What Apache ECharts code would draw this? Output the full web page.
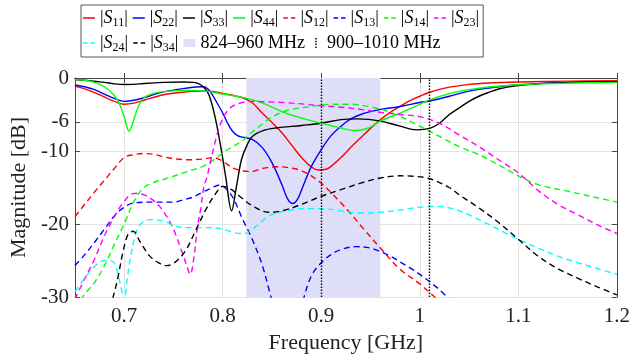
<!DOCTYPE html>
<html>
<head>
<meta charset="utf-8">
<script src="https://cdn.jsdelivr.net/npm/echarts@6/dist/echarts.min.js"></script>
<style>html,body{margin:0;padding:0;background:#fff}#c{width:633px;height:361px}</style>
</head>
<body>
<div id="c"></div>
<script>
// ---- data (frequency in GHz, magnitude in dB) ----
const s11F = [0.65,0.66,0.67,0.68,0.69,0.70,0.71,0.72,0.74,0.76,0.78,0.79,0.80,0.82,0.83,0.84,0.85,0.86,0.87,0.88,0.89,0.897,0.905,0.91,0.92,0.93,0.94,0.95,0.96,0.97,0.98,0.99,1.00,1.01,1.02,1.03,1.05,1.07,1.10,1.15,1.20];
const s11  = [-1.1,-1.5,-2.0,-2.6,-3.2,-3.6,-3.45,-3.05,-2.3,-1.95,-1.8,-1.85,-2.1,-2.7,-3.4,-4.8,-6.1,-7.5,-9.2,-10.9,-12.2,-12.6,-12.5,-12.1,-10.9,-9.5,-8.2,-6.9,-5.7,-4.7,-3.9,-3.1,-2.5,-1.95,-1.55,-1.25,-0.87,-0.68,-0.55,-0.43,-0.37];

const s22F = [0.65,0.66,0.67,0.68,0.69,0.70,0.71,0.72,0.74,0.76,0.78,0.785,0.79,0.795,0.80,0.805,0.81,0.815,0.82,0.83,0.84,0.85,0.86,0.866,0.871,0.876,0.881,0.89,0.90,0.91,0.92,0.93,0.94,0.95,0.96,0.98,1.00,1.01,1.03,1.05,1.07,1.10,1.15,1.20];
const s22  = [-0.95,-1.2,-1.6,-2.2,-2.8,-3.2,-3.05,-2.7,-1.9,-1.45,-1.2,-1.5,-2.4,-3.6,-4.8,-6.2,-7.3,-7.9,-8.1,-8.4,-9.5,-11.6,-14.6,-16.6,-17.2,-16.6,-15.0,-12.1,-9.8,-7.9,-6.6,-5.6,-5.0,-4.6,-4.3,-3.9,-3.35,-3.15,-2.5,-1.8,-1.37,-0.92,-0.6,-0.5];

const s33F = [0.65,0.66,0.67,0.68,0.69,0.70,0.71,0.72,0.74,0.76,0.77,0.776,0.781,0.786,0.792,0.798,0.803,0.809,0.814,0.819,0.824,0.83,0.841,0.854,0.88,0.90,0.92,0.937,0.96,0.98,0.997,1.01,1.02,1.03,1.04,1.05,1.06,1.07,1.08,1.10,1.12,1.15,1.20];
const s33  = [-0.2,-0.3,-0.45,-0.6,-0.8,-0.9,-0.88,-0.75,-0.6,-0.55,-0.6,-0.8,-1.3,-2.3,-5.2,-9.4,-13.5,-18.2,-14.8,-11.2,-9.4,-8.0,-7.2,-6.85,-6.5,-6.2,-5.7,-5.6,-5.9,-6.6,-7.1,-6.9,-6.2,-5.0,-4.1,-3.2,-2.5,-1.97,-1.5,-1.05,-0.8,-0.64,-0.5];

const s44F = [0.65,0.66,0.67,0.68,0.69,0.695,0.70,0.705,0.71,0.715,0.72,0.73,0.745,0.765,0.785,0.80,0.82,0.84,0.86,0.88,0.90,0.92,0.934,0.948,0.96,0.98,1.00,1.01,1.03,1.05,1.07,1.10,1.15,1.20];
const s44  = [-0.22,-0.3,-0.6,-1.2,-2.4,-3.5,-5.3,-7.3,-5.6,-3.7,-2.7,-2.1,-1.8,-1.7,-1.83,-2.2,-2.65,-3.4,-4.6,-5.5,-6.2,-6.85,-7.2,-6.85,-5.9,-4.8,-3.6,-3.0,-2.15,-1.6,-1.23,-0.92,-0.7,-0.6];

const s12F = [0.65,0.66,0.67,0.68,0.69,0.70,0.71,0.72,0.73,0.74,0.75,0.765,0.78,0.79,0.80,0.81,0.82,0.83,0.84,0.855,0.87,0.88,0.89,0.90,0.91,0.92,0.93,0.94,0.96,0.98,1.00,1.01,1.02];
const s12  = [-19.0,-17.3,-15.6,-14.0,-12.4,-10.9,-10.5,-10.35,-10.45,-10.8,-11.05,-11.2,-11.1,-10.9,-11.4,-12.3,-12.7,-12.8,-12.4,-12.15,-12.35,-12.7,-13.4,-14.4,-15.7,-17.1,-18.6,-20.2,-23.3,-26.2,-28.2,-29.4,-30.6];

const s13F = [0.65,0.66,0.67,0.68,0.69,0.70,0.71,0.73,0.75,0.76,0.77,0.78,0.79,0.796,0.80,0.81,0.82,0.83,0.84,0.848,0.855,0.865,0.876,0.882,0.89,0.90,0.91,0.92,0.935,0.95,0.96,0.97,0.98,0.99,1.00,1.01,1.02,1.03];
const s13  = [-25.7,-24.2,-22.5,-20.7,-18.9,-17.7,-17.1,-17.0,-17.0,-16.7,-16.3,-15.6,-15.0,-14.7,-14.8,-16.3,-19.3,-22.1,-25.6,-29.5,-33,-38,-34,-30.3,-27.1,-25.3,-24.2,-23.5,-23.1,-23.3,-23.8,-24.4,-25.2,-26.0,-26.9,-27.9,-29.0,-30.3];

const s14F = [0.65,0.66,0.67,0.68,0.69,0.70,0.71,0.72,0.73,0.74,0.76,0.78,0.79,0.80,0.81,0.82,0.83,0.84,0.85,0.86,0.87,0.89,0.91,0.93,0.95,0.97,0.99,1.00,1.02,1.04,1.06,1.08,1.10,1.12,1.15,1.18,1.20];
const s14  = [-31.5,-29.6,-28.0,-25.7,-22.8,-20.0,-16.9,-15.0,-14.3,-13.9,-13.0,-12.1,-11.3,-10.3,-9.4,-8.6,-7.4,-6.3,-5.35,-4.7,-4.3,-3.9,-3.6,-3.6,-3.95,-4.7,-5.9,-6.6,-8.0,-9.4,-10.5,-11.9,-13.4,-14.6,-15.5,-16.4,-17.0];

const s23F = [0.65,0.66,0.67,0.68,0.69,0.70,0.71,0.72,0.73,0.74,0.75,0.757,0.763,0.767,0.771,0.774,0.778,0.781,0.784,0.788,0.793,0.798,0.806,0.816,0.83,0.85,0.86,0.88,0.90,0.92,0.94,0.96,0.98,1.00,1.02,1.04,1.06,1.08,1.10,1.12,1.14,1.16,1.18,1.20];
const s23  = [-30.3,-27.5,-24.8,-21.6,-19.0,-16.9,-15.8,-16.0,-16.8,-18.3,-20.7,-23.2,-25.5,-26.9,-24.4,-20.8,-17.6,-14.8,-13.6,-11.2,-8.4,-6.2,-4.3,-3.5,-3.2,-3.3,-3.35,-3.55,-3.8,-4.0,-4.3,-4.7,-5.0,-5.3,-6.2,-7.8,-9.4,-11.2,-13.0,-15.4,-17.3,-18.7,-20.1,-21.3];

const s24F = [0.65,0.66,0.67,0.68,0.689,0.694,0.698,0.700,0.703,0.706,0.711,0.716,0.726,0.74,0.752,0.765,0.786,0.80,0.812,0.822,0.834,0.847,0.864,0.88,0.90,0.92,0.94,0.96,0.98,1.00,1.02,1.04,1.06,1.08,1.10,1.12,1.14,1.16,1.18,1.20];
const s24  = [-29.3,-27.4,-25.8,-25.0,-25.2,-27.1,-29.4,-30.5,-27.6,-24.9,-21.7,-20.1,-19.4,-19.6,-20.3,-20.5,-20.5,-20.7,-21.2,-21.3,-20.3,-18.9,-18.2,-17.9,-17.9,-18.2,-18.5,-18.4,-18.1,-17.7,-17.6,-18.2,-19.4,-20.75,-22.1,-23.3,-24.4,-25.3,-26.1,-26.9];

const s34F = [0.685,0.689,0.694,0.699,0.704,0.709,0.716,0.726,0.736,0.743,0.753,0.763,0.773,0.783,0.793,0.80,0.809,0.819,0.83,0.847,0.86,0.88,0.90,0.92,0.94,0.96,0.98,0.993,1.01,1.03,1.04,1.06,1.08,1.10,1.12,1.14,1.16,1.18,1.20];
const s34  = [-31.5,-29.9,-27.1,-23.7,-21.4,-21.0,-22.4,-24.4,-25.4,-25.7,-25.1,-23.5,-20.75,-18.0,-15.8,-14.85,-15.3,-16.4,-17.5,-18.4,-18.2,-17.3,-16.2,-15.3,-14.4,-13.7,-13.4,-13.45,-13.8,-15.0,-16.0,-17.8,-19.8,-22.1,-24.4,-26.1,-27.4,-28.6,-29.7];

const bandGHz = [0.824, 0.960];
const markerGHz = [0.900, 1.010];
const xTicks = [0.7, 0.8, 0.9, 1.0, 1.1, 1.2];
const yTicks = [-30, -20, -10, -6, 0];

const curves = [
  {name:'S11', f:s11F, v:s11, color:'#ff0000', dash:'solid'},
  {name:'S22', f:s22F, v:s22, color:'#0000ff', dash:'solid'},
  {name:'S33', f:s33F, v:s33, color:'#000000', dash:'solid'},
  {name:'S44', f:s44F, v:s44, color:'#00ff00', dash:'solid'},
  {name:'S12', f:s12F, v:s12, color:'#ff0000', dash:[6,4]},
  {name:'S13', f:s13F, v:s13, color:'#0000ff', dash:[6,4]},
  {name:'S14', f:s14F, v:s14, color:'#00ff00', dash:[6,4]},
  {name:'S23', f:s23F, v:s23, color:'#ff00ff', dash:[6,4]},
  {name:'S24', f:s24F, v:s24, color:'#00ffff', dash:[6,4]},
  {name:'S34', f:s34F, v:s34, color:'#000000', dash:[6,4]}
];

const FONT = 'Liberation Serif';
const bandColor = '#dedef9';
const axisColor = '#444';
const gridColor = '#e3e3e3';

const series = [];
series.push({
  name:'824–960 MHz', type:'line', data:[], z:1, color:bandColor,
  markArea:{silent:true, itemStyle:{color:bandColor}, data:[[{xAxis:bandGHz[0]},{xAxis:bandGHz[1]}]]}
});
curves.forEach(c => {
  series.push({
    name:c.name, type:'line', symbol:'none', showSymbol:false, smooth:0.35, z:3,
    color:c.color, clip:true, animation:false,
    lineStyle:{color:c.color, width:1.4, type:c.dash},
    data:c.f.map((x,i)=>[x,c.v[i]])
  });
});
series.push({
  name:'900–1010 MHz', type:'line', data:[], z:4, color:'#000',
  markLine:{silent:true, symbol:'none', label:{show:false},
    lineStyle:{color:'#000', type:[1.5,1.5], width:1.4},
    data: markerGHz.map(x=>({xAxis:x}))}
});

// legend icons (filled paths; tiny corner squares fix the icon box to 12x10)
const corners = 'M0,0h0.01v0.01h-0.01z M11.99,9.99h0.01v0.01h-0.01z ';
const solidIcon = 'path://' + corners + 'M0,4.3h12v1.5h-12z';
const dashIcon = 'path://' + corners + 'M0,4.3h4.5v1.5h-4.5z M7.5,4.3h4.5v1.5h-4.5z';
const dotIcon = 'path://' + corners + 'M5.3,0h1.5v1.5h-1.5z M5.3,2.8h1.5v1.5h-1.5z M5.3,5.6h1.5v1.5h-1.5z M5.3,8.4h1.5v1.5h-1.5z';
const bandIcon = 'path://' + corners + 'M0,1h12v8h-12z';

const legendData = curves.map(c=>({name:c.name, icon: c.dash === 'solid' ? solidIcon : dashIcon, itemStyle:{color:c.color}}));
legendData.push({name:'824–960 MHz', icon:bandIcon, itemStyle:{color:bandColor}});
legendData.push({name:'900–1010 MHz', icon:dotIcon, itemStyle:{color:'#000'}});

const chart = echarts.init(document.getElementById('c'), null, {renderer:'canvas'});
chart.setOption({
  animation:false,
  backgroundColor:'#fff',
  grid:{left:69, right:13, top:78, bottom:64, containLabel:false},
  legend:{
    data:legendData, left:81, top:5, width:407, orient:'horizontal',
    padding:[4,4,3,2], itemGap:5, itemWidth:12, itemHeight:10,
    borderColor:'#555', borderWidth:1, backgroundColor:'#fff',
    selectedMode:false,
    formatter: name => {
      const m = /^S(\d+)$/.exec(name);
      if (m) return '{p||}{s|S}{b|' + m[1] + '}{p||}';
      return '{t|' + name + '}';
    },
    textStyle:{fontFamily:FONT, color:'#000', fontSize:18,
      rich:{
        p:{fontFamily:FONT, fontSize:18, lineHeight:22, color:'#000'},
        s:{fontFamily:FONT, fontSize:18, lineHeight:22, fontStyle:'italic', color:'#000'},
        b:{fontFamily:FONT, fontSize:12, lineHeight:12, verticalAlign:'bottom', color:'#000'},
        t:{fontFamily:FONT, fontSize:18, lineHeight:22, color:'#000'}
      }}
  },
  xAxis:[{
    type:'value', min:0.65, max:1.2, position:'bottom',
    name:'Frequency [GHz]', nameLocation:'middle', nameGap:32,
    nameTextStyle:{fontFamily:FONT, fontSize:22, color:'#222'},
    axisLine:{show:true, lineStyle:{color:axisColor, width:1}},
    axisTick:{show:true, inside:true, length:5, customValues:xTicks, lineStyle:{color:axisColor}},
    axisLabel:{customValues:xTicks, fontFamily:FONT, fontSize:21, color:'#222', margin:9,
      formatter:v=>String(Math.round(v*10)/10)},
    splitLine:{show:true, lineStyle:{color:gridColor, width:1}}
  },{
    type:'value', min:0.65, max:1.2, position:'top',
    axisLine:{show:true, lineStyle:{color:axisColor, width:1}},
    axisTick:{show:true, inside:true, length:5, customValues:xTicks, lineStyle:{color:axisColor}},
    axisLabel:{show:false}, splitLine:{show:false}
  }],
  yAxis:[{
    type:'value', min:-30, max:0, position:'left',
    name:'Magnitude [dB]', nameLocation:'middle', nameGap:40, nameRotate:90,
    nameTextStyle:{fontFamily:FONT, fontSize:22, color:'#222'},
    axisLine:{show:true, lineStyle:{color:axisColor, width:1}},
    axisTick:{show:true, inside:true, length:5, customValues:yTicks, lineStyle:{color:axisColor}},
    axisLabel:{customValues:yTicks, fontFamily:FONT, fontSize:21, color:'#222', margin:6},
    splitLine:{show:true, lineStyle:{color:gridColor, width:1}}
  },{
    type:'value', min:-30, max:0, position:'right',
    axisLine:{show:true, lineStyle:{color:axisColor, width:1}},
    axisTick:{show:true, inside:true, length:5, customValues:yTicks, lineStyle:{color:axisColor}},
    axisLabel:{show:false}, splitLine:{show:false}
  }],
  series:series
});
</script>
</body>
</html>
